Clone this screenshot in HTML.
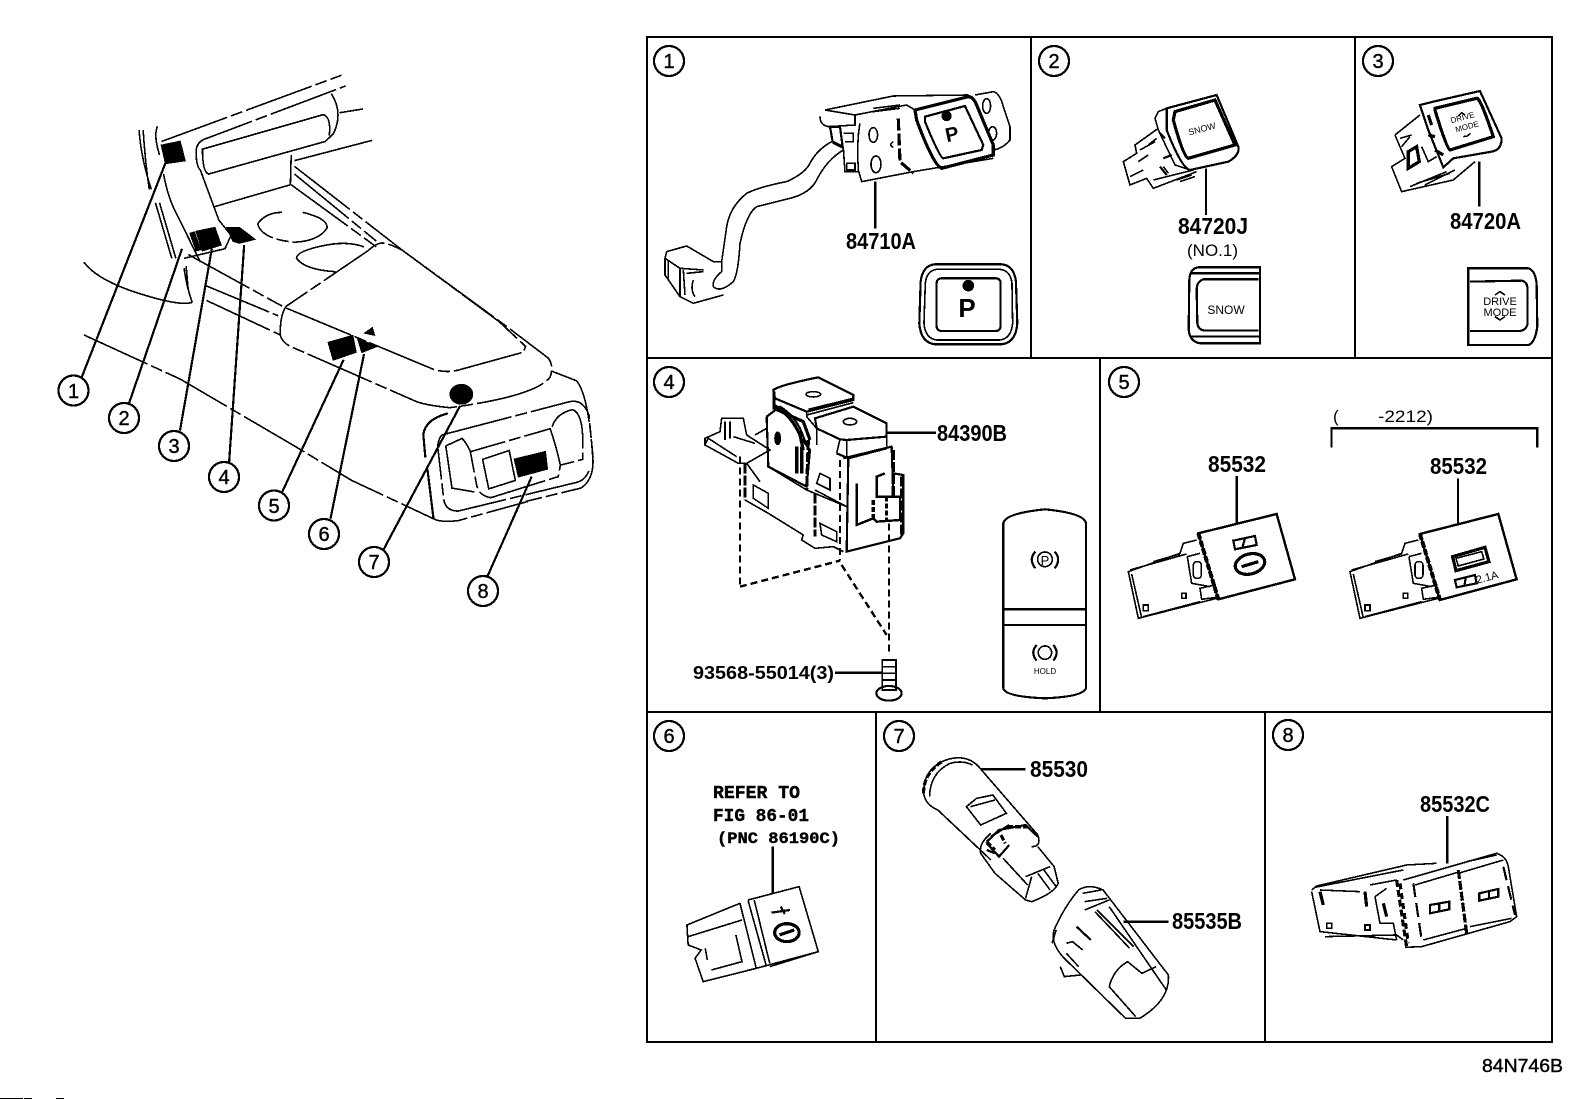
<!DOCTYPE html>
<html><head><meta charset="utf-8"><style>
html,body{margin:0;padding:0;background:#fff}
svg{display:block}
path,line,ellipse,circle,rect,polygon{fill:none;stroke:#000;stroke-width:1.6;vector-effect:non-scaling-stroke;shape-rendering:crispEdges}
.t{stroke-width:3.2}.m{stroke-width:2.2}.f{stroke-width:1.2}
.b{fill:#000}.w{fill:#fff}
.d{stroke-dasharray:70 4 12 4}.ds{stroke-dasharray:7 4;stroke-width:2.4}
.g{stroke-width:2.4}
text{font-family:"Liberation Sans",sans-serif;fill:#000;stroke:none}
.n{font-weight:bold;font-size:23px}
.c{font-size:20px;text-anchor:middle;stroke:#000;stroke-width:.4}
.r{font-family:"Liberation Mono",monospace;font-weight:bold;font-size:18px;stroke:#000;stroke-width:.4}
</style></head><body>
<svg width="1592" height="1099" viewBox="0 0 1592 1099" xmlns="http://www.w3.org/2000/svg">
<rect x="0" y="0" width="1592" height="1099" style="fill:#fff;stroke:none"/>

<!-- overview -->
<g transform="translate(0,40) scale(.409,.383)">
<path class="d" d="M395,265L835,92"/>
<path class="d" d="M480,300Q475,265 510,255L845,120"/>
<path d="M810,140Q840,190 815,245L795,265L510,350Q495,345 495,285L790,195Q810,200 805,250"/>
<path d="M830,190L888,180M720,315L910,262M712,300L710,378M525,435L710,378"/>
<path d="M480,300Q480,330 490,340L535,470L565,510L550,545L450,570"/>
<path class="d" d="M720,330L985,550L1235,745L1340,830"/>
<path class="d" d="M712,378L920,540M720,350L920,525"/>
<path class="d" d="M630,480Q650,450 690,450M740,450Q800,465 800,490Q780,525 720,528Q640,520 630,480"/>
<path d="M890,540Q850,525 800,535Q725,550 725,570Q745,600 820,605"/>
<path class="d" d="M935,530Q920,530 900,550L700,695Q685,715 685,770Q690,790 710,800L1020,945Q1050,955 1100,960Q1310,930 1345,880Q1355,850 1340,830"/>
<path class="d" d="M700,700L1060,860Q1090,870 1120,862L1280,815L1285,800L1220,735L985,550Q950,530 935,530"/>
<path d="M205,580Q240,630 350,665Q440,695 470,685"/>
<path class="d" d="M205,770L440,885L720,1060L860,1150L1060,1250Q1075,1260 1120,1255L1290,1205"/>
<path class="d" d="M460,560L690,695M500,640L680,720M505,680L685,770"/>
<path d="M340,235Q345,310 370,390M350,235Q355,320 365,390M385,225Q375,250 390,300M380,425L420,570M390,425L430,570M400,350Q410,410 430,450L490,580"/>
<path d="M450,595Q455,640 470,685M455,590L460,650"/>
<path class="d m" d="M1040,1090L1035,1030Q1040,990 1095,975"/>
<path class="m" d="M1045,1120L1060,1250"/>
<path class="d" d="M1350,865L1410,890Q1440,930 1450,1100Q1450,1150 1420,1170L1285,1205"/>
<path class="d" d="M1085,1030L1390,945Q1425,935 1440,980L1450,1090"/>
<path class="d" d="M1440,1125Q1430,1150 1410,1155L1120,1230Q1090,1230 1085,1200L1070,1060Q1075,1030 1085,1030"/>
<path class="d" d="M1090,1060L1130,1040Q1145,1060 1150,1075L1345,1015Q1360,1060 1370,1110L1365,1140L1200,1195Q1170,1190 1165,1160L1150,1075"/>
<path class="d" d="M1090,1060L1105,1170L1160,1180M1350,1010Q1360,975 1400,965Q1425,975 1425,1050L1425,1095L1370,1110"/>
<polygon points="1180,1095 1245,1072 1260,1150 1195,1172"/>
<polygon class="b" points="395,275 440,265 452,315 405,322"/>
<polygon class="b" points="480,500 525,490 540,535 495,550"/>
<polygon class="b" points="465,505 475,502 490,547 480,550"/>
<polygon class="b" points="555,490 585,490 622,520 585,530 570,525"/>
<polygon class="b" points="803,790 862,772 870,815 815,835"/>
<polygon class="b" points="875,780 920,800 885,815"/>
<polygon class="b" points="893,765 910,752 915,770"/>
<ellipse class="b" cx="1128" cy="925" rx="27" ry="25"/>
<polygon class="b" points="1258,1095 1333,1075 1338,1120 1268,1140"/>
<path class="m" d="M405,320L200,880M445,545L315,950M518,545L440,1020M597,535L560,1105M840,835L690,1180M890,820L808,1250M1125,955L938,1330M1300,1140L1192,1400"/>
</g>

<!-- grid -->
<path class="g" d="M647,37H1552V1042H647ZM647,358H1552M647,712H1552"/>
<path class="g" d="M1031,37V358M1355,37V358M1100,358V712M876,712V1042M1265,712V1042"/>

<!-- panel 1 -->
<g transform="translate(640,30) scale(.3333)">
<path d="M575,335Q530,360 510,400Q495,430 440,455Q360,470 320,490Q270,530 260,590L245,695L245,725Q215,750 220,770Q240,790 280,755Q295,730 300,640Q320,550 350,530L450,505Q510,490 530,450Q560,390 610,360"/>
<path d="M80,665L140,648L220,695L245,695M80,665L75,685L75,735L120,800L160,820L250,795M75,685L120,715L120,800M120,715L190,720M160,750Q150,780 165,800M85,690L85,745M130,720L135,795M140,730L190,725"/>
<path d="M660,280Q650,330 655,420L665,455L820,425L1060,385M540,260Q540,285 565,290L645,285L645,255L555,240L760,198L985,195M645,255L800,225L825,240M570,290L580,340L610,355L615,425L655,425M610,310H640V335H615M700,235L780,225M700,245L780,235M620,400H645V420H620Z"/>
<path class="m" d="M570,290L578,335L608,350L600,290Z"/>
<path class="t" d="M825,240L985,200Q1000,200 1010,225L1060,345L1060,375L905,415Q880,405 830,270Z"/>
<path class="m" d="M855,260L975,228L1030,345L1025,360L910,385Q900,385 855,275Z"/>
<circle class="b" cx="920" cy="258" r="13"/>
<path d="M1005,195L1060,185Q1080,190 1090,230L1110,290L1110,330Q1090,355 1060,360"/>
<ellipse cx="1040" cy="228" rx="12" ry="22"/><ellipse cx="1058" cy="310" rx="12" ry="20"/><ellipse cx="700" cy="315" rx="13" ry="22"/><ellipse cx="708" cy="403" rx="15" ry="25"/>
<path d="M760,335Q745,345 760,352"/>
<path class="t" d="M775,265L780,395L820,430" style="stroke-dasharray:12 3"/>
<path class="g" d="M706,455V595"/>
<path class="m" d="M885,703H1085Q1122,706 1128,755L1132,880Q1128,938 1085,943H885Q842,938 838,880L842,755Q848,706 885,703Z"/>
<path d="M890,718H1080Q1112,722 1116,760L1118,880Q1114,926 1080,930H890Q856,926 852,880L856,760Q860,722 890,718Z"/>
<rect class="m" x="890" y="745" width="192" height="158" rx="14"/>
<circle class="b" cx="985" cy="767" r="15"/>
</g>

<!-- panel 2, 3 -->
<g transform="translate(1100,30) scale(.3333)">
<path class="m" d="M200,235L350,195L415,350Q420,375 385,395L270,420Q245,415 200,300Z"/>
<path class="t" d="M225,245L345,210L405,345L265,385Q250,380 220,270Z"/>
<path d="M200,235L175,245L165,265L175,300L225,405L270,420M175,295L105,345L110,370L70,395L90,465L140,445L160,475L290,425M115,395L145,375M190,410L205,430M145,345L170,325M160,450L280,420M120,360L165,335M230,450L275,435M240,455L285,440M90,440L130,420"/>
<path class="m" d="M180,310L195,325M190,385L215,375M180,410L200,435"/>
<path class="g" d="M318,415V555"/>
<path class="m" d="M480,712L295,712Q270,715 268,750L266,900Q270,935 300,940L480,940ZM272,730H480M272,920H480"/>
<path class="m" d="M475,748L310,748Q290,755 290,780L292,880Q295,900 315,902L475,902"/>

<path class="m" d="M1000,215L1140,183L1205,325Q1205,360 1175,365L1060,385L1030,412L985,300L960,225Z"/>
<path class="t" d="M1005,235L1130,205Q1140,200 1180,320L1050,360Q1040,355 1005,240Z"/>
<path d="M885,315L960,255M885,315L915,385L875,410L905,485L1060,450L1125,395M930,470L1040,425M905,350L930,320M950,460L1050,430M975,465L1065,420M900,325L935,315M965,350L985,395L1010,380"/>
<path class="t" d="M925,365L950,350L958,395L925,415ZM985,255L995,285M1005,360L1030,375M985,315L1005,320"/>
<path class="g" d="M1138,395V530"/>
<path class="m" d="M1105,715L1285,715Q1305,720 1310,760L1312,890Q1305,940 1285,945L1105,945Z"/>
<path class="m" d="M1110,755L1265,752Q1283,755 1283,780L1283,880Q1280,900 1260,903L1110,903"/>
<path d="M1185,795L1200,785L1215,795M1185,860L1200,870L1215,860M1075,258L1085,248L1095,255M1090,320L1102,318L1112,310"/>
</g>

<!-- panel 4 -->
<g transform="translate(640,350) scale(.3333)">
<path class="m" d="M400,120Q420,105 535,82L640,135L640,150L500,185L405,145Z"/>
<path class="t" d="M402,125V175L490,215L510,270"/>
<path class="m" d="M525,205L640,170L740,220L740,260Q680,265 620,270L600,268L530,235Z"/>
<path d="M500,185L500,200L530,235M500,195L640,158M505,178L640,145M600,268L590,310M620,270V325M530,235V285M740,220V290"/>
<path class="m" d="M610,325L755,290L760,440M590,310L625,325L620,605L780,565L790,550L790,375L760,370M625,325L740,295"/>
<path d="M385,350L500,420L620,470M315,450L385,490L490,555L485,570L525,595L580,590L610,605M525,420L620,470"/>
<path d="M195,265L240,245L245,205L310,205L320,255L390,300L320,340L295,340L195,285ZM195,285L205,265L290,320M320,340L360,395M345,255L380,235M255,215V270M270,215V265M280,260L345,280"/>
<path class="m" d="M380,200L420,170Q470,200 490,260L510,310M380,200L385,350L500,410L510,300L480,260"/>
<path class="t" d="M505,270L500,420M525,430V560M315,340V450M760,300V440M785,380V555" style="stroke-dasharray:10 2"/>
<path class="t" d="M400,165Q450,190 480,255L490,300M470,290V370M485,290V370"/>
<path d="M340,405L385,430V475L340,445ZM540,520L590,545V575L545,555ZM540,370L570,385V420L530,400Z"/>
<path class="g" d="M650,400L650,525L700,505L710,515L780,510L780,440L710,440L710,380L735,370"/>
<path class="t" d="M700,450V510M740,440V510" style="stroke-dasharray:5 2"/>
<ellipse class="b" cx="413" cy="265" rx="8" ry="18"/>
<ellipse cx="520" cy="133" rx="22" ry="8"/><ellipse cx="630" cy="215" rx="20" ry="10"/>
<path class="ds" d="M300,320V710M600,330V632M747,520V905"/>
<path class="ds" d="M300,710L600,632M605,645L740,855"/>
<path d="M727,930H768V1020H727ZM727,950H768M727,970H768M727,990H768"/>
<ellipse class="m" cx="747" cy="1030" rx="38" ry="22"/>
<path class="g" d="M740,248H888M585,968H725"/>
<path class="m" d="M1090,520Q1095,490 1215,478Q1335,490 1338,520L1338,1015Q1330,1040 1215,1045Q1095,1040 1090,1015Z"/>
<path class="m" d="M1092,778H1338M1092,825H1338"/>
<circle cx="1215" cy="628" r="22"/>
<path class="m" d="M1186,605Q1165,628 1186,655M1244,605Q1265,628 1244,655"/>
<circle cx="1215" cy="908" r="20"/>
<path class="m" d="M1190,885Q1170,908 1190,932M1240,885Q1260,908 1240,932"/>
</g>

<!-- panel 5 -->
<g transform="translate(1100,350) scale(.3333)">
<path class="g" d="M295,550L530,492L585,688L355,748Z"/>
<path style="stroke-width:4;stroke-dasharray:6 2" d="M295,550L355,748"/>
<path d="M290,570L250,580L240,610L85,665L115,805L350,745M95,672L125,803M90,660L260,612M262,620L300,610M262,620L275,700L330,710M300,715L345,705L350,742L305,748ZM160,635L240,612M130,800L300,755"/>
<rect x="280" y="635" width="24" height="50" rx="10"/>
<ellipse class="t" cx="450" cy="642" rx="45" ry="30" transform="rotate(-15 450 642)"/>
<path class="t" d="M425,650L475,635"/>
<path class="m" d="M400,572L465,558L470,585L405,598ZM435,565L428,590"/>
<path d="M245,730H258V745H245ZM130,765H145V782H130Z"/>
<path class="g" d="M410,378V520"/>
<path class="g" d="M960,552L1195,492L1250,688L1020,750Z"/>
<path style="stroke-width:4;stroke-dasharray:6 2" d="M960,552L1020,750"/>
<path d="M955,570L915,580L905,610L750,665L780,805L1015,745M760,672L790,803M755,660L925,612M927,620L965,610M927,620L940,700L995,710M965,715L1010,705L1015,742L970,748ZM825,635L905,612M795,800L965,755"/>
<rect x="945" y="635" width="24" height="50" rx="10"/>
<path class="t" d="M1058,620L1155,592L1167,635L1068,662Z"/>
<path d="M1068,625L1145,605L1152,627L1075,648Z"/>
<path class="m" d="M1065,690L1125,675L1130,700L1070,712ZM1098,680L1093,708"/>
<path d="M910,730H923V745H910ZM795,765H810V782H795Z"/>
<path class="g" d="M1074,385V520"/>
<path class="m" d="M695,292V235H1312V292"/>
</g>

<!-- panel 6,7 -->
<g transform="translate(640,710) scale(.408,.3333)">
<path d="M265,570L390,530L437,725L285,775M245,580L115,645L118,705L150,720L135,745L155,815L285,775M245,580L285,775M265,572L310,770M280,570L318,760M118,680L250,630M160,715L165,750M175,780L250,755L235,675M318,770L437,725"/>
<ellipse class="t" cx="360" cy="668" rx="30" ry="27"/>
<path class="t" d="M342,675L378,660"/>
<path class="m" d="M322,608L368,600M345,590L355,612"/>
<path class="g" d="M325,410V550"/>
<path d="M695,250Q695,175 750,150Q800,130 830,170L975,375Q985,410 960,410M695,250Q700,285 730,300L860,450M710,260Q710,190 760,160Q790,150 815,165"/>
<path class="t" d="M695,250Q695,190 740,155" style="stroke-dasharray:6 2"/>
<path d="M860,370Q830,400 835,430L870,490L945,570L960,575Q1015,550 1025,520L1015,470L975,410M800,290L825,265L865,255L898,310L835,345ZM890,445L950,525M945,500L1005,470M960,500L945,565M975,490L1005,540M990,480L1020,530M810,290L870,270"/>
<path class="m" d="M850,395L880,360L945,345L975,380M850,400L880,440L905,405M860,380L905,345M850,420L870,430"/>
<path class="t" d="M850,395L870,420M885,375L895,400M900,350L950,350" style="stroke-dasharray:6 2"/>
<path d="M1075,540Q1100,520 1135,540L1295,795Q1300,870 1225,925L1190,925L1040,745Q1005,700 1015,660Q1040,590 1075,540ZM1115,605L1200,715M1150,590L1290,840M1090,600L1150,570M1150,830Q1160,780 1195,755L1230,790L1265,770M1150,830L1215,920M1030,770L1040,800L1080,795M1045,700L1060,695L1085,720M1045,730L1075,770M1085,550L1130,540M1090,575L1145,565M1120,600L1210,710M1020,660L1010,700"/>
<path class="m" d="M1070,650L1105,690"/>
<path class="g" d="M835,178H945M1185,635H1295"/>
</g>

<!-- panel 8 -->
<g transform="translate(1240,710) scale(.3333)">
<path d="M490,510L770,430Q800,440 805,470L830,620L810,635L545,710L495,712M215,540L230,528L500,465L590,460M225,532L490,480M215,545L240,665L470,690M255,680L470,675L490,690M390,525L470,510M405,560L440,535M405,560L420,640L460,640L470,690M525,525L660,485M655,490L790,450M680,455L770,435M550,690L680,655M690,650L815,625M240,540L360,545"/>
<path class="t" d="M470,510L500,712" style="stroke-dasharray:7 3"/>
<path class="t" d="M480,520L505,700" style="stroke-dasharray:6 4"/>
<path class="t" d="M655,480L680,670" style="stroke-dasharray:9 2"/>
<path class="m" d="M520,520L545,690" style="stroke-dasharray:14 6"/>
<path class="m" d="M790,470L825,615" style="stroke-dasharray:14 6"/>
<path class="t" d="M240,545L250,585M375,545L380,590M430,580L440,620"/>
<path d="M260,640H275V655H260ZM375,645H390V660H375Z"/>
<path class="m" d="M570,585L628,575L628,598L570,610ZM598,578V605M718,550L775,537L775,560L718,572ZM747,545V565"/>
<path class="g" d="M622,318V460"/>
</g>

<!-- number circles -->
<g>
<circle cx="669" cy="61" r="15" class="m"/><circle cx="1054" cy="61" r="15" class="m"/><circle cx="1378" cy="61" r="15" class="m"/><circle cx="669" cy="382" r="15" class="m"/><circle cx="1124" cy="382" r="15" class="m"/><circle cx="669" cy="736" r="15" class="m"/><circle cx="899" cy="736" r="15" class="m"/><circle cx="1288" cy="735" r="15" class="m"/>
<circle cx="73.5" cy="390.5" r="15" class="m"/><circle cx="124" cy="418" r="15" class="m"/><circle cx="174" cy="446" r="15" class="m"/><circle cx="224" cy="477" r="15" class="m"/><circle cx="274" cy="505.5" r="15" class="m"/><circle cx="324" cy="534" r="15" class="m"/><circle cx="374" cy="562" r="15" class="m"/><circle cx="483" cy="591" r="15" class="m"/>
</g>
<text class="c" x="669" y="68">1</text><text class="c" x="1054" y="68">2</text><text class="c" x="1378" y="68">3</text><text class="c" x="669" y="389">4</text><text class="c" x="1124" y="389">5</text><text class="c" x="669" y="743">6</text><text class="c" x="899" y="743">7</text><text class="c" x="1288" y="742">8</text>
<text class="c" x="73.5" y="398">1</text><text class="c" x="124" y="425">2</text><text class="c" x="174" y="453">3</text><text class="c" x="224" y="484">4</text><text class="c" x="274" y="513">5</text><text class="c" x="324" y="541">6</text><text class="c" x="374" y="569">7</text><text class="c" x="483" y="598">8</text>

<!-- labels -->
<text class="n" x="846" y="249" textLength="70" lengthAdjust="spacingAndGlyphs">84710A</text>
<text class="n" x="1178" y="234" textLength="70" lengthAdjust="spacingAndGlyphs">84720J</text>
<text x="1187" y="256" font-size="17" textLength="51" lengthAdjust="spacingAndGlyphs">(NO.1)</text>
<text class="n" x="1450" y="229" textLength="71" lengthAdjust="spacingAndGlyphs">84720A</text>
<text class="n" x="937" y="441" textLength="70" lengthAdjust="spacingAndGlyphs">84390B</text>
<text class="n" x="693" y="679" style="font-size:18px" textLength="141" lengthAdjust="spacingAndGlyphs">93568-55014(3)</text>
<text x="1333" y="422" font-size="17">(</text>
<text x="1378" y="422" font-size="17" textLength="55" lengthAdjust="spacingAndGlyphs">-2212)</text>
<text class="n" x="1208" y="472" textLength="58" lengthAdjust="spacingAndGlyphs">85532</text>
<text class="n" x="1430" y="474" textLength="57" lengthAdjust="spacingAndGlyphs">85532</text>
<text class="r" x="713" y="798" textLength="87" lengthAdjust="spacingAndGlyphs">REFER TO</text>
<text class="r" x="713" y="821" textLength="96" lengthAdjust="spacingAndGlyphs">FIG 86-01</text>
<text class="r" x="717" y="843" style="font-size:16px" textLength="123" lengthAdjust="spacingAndGlyphs">(PNC 86190C)</text>
<text class="n" x="1030" y="777" textLength="58" lengthAdjust="spacingAndGlyphs">85530</text>
<text class="n" x="1172" y="929" textLength="70" lengthAdjust="spacingAndGlyphs">85535B</text>
<text class="n" x="1420" y="812" textLength="70" lengthAdjust="spacingAndGlyphs">85532C</text>
<text x="1482" y="1072" font-size="18" stroke="#000" style="stroke:#000;stroke-width:.4" textLength="81" lengthAdjust="spacingAndGlyphs">84N746B</text>
<text x="952" y="141" font-size="20" font-weight="bold" text-anchor="middle" transform="rotate(-12 952 134)">P</text>
<text x="967" y="317" font-size="26" font-weight="bold" text-anchor="middle">P</text>
<text x="1202" y="132" font-size="9" text-anchor="middle" transform="rotate(-15 1202 129)">SNOW</text>
<text x="1226" y="314" font-size="12" text-anchor="middle">SNOW</text>
<text x="1464" y="120" font-size="8" text-anchor="middle" transform="rotate(-15 1464 123)">DRIVE</text>
<text x="1466" y="130" font-size="8" text-anchor="middle" transform="rotate(-15 1464 123)">MODE</text>
<text x="1500" y="305" font-size="11" text-anchor="middle">DRIVE</text>
<text x="1500" y="316" font-size="11" text-anchor="middle">MODE</text>
<text x="1045" y="565" font-size="13" text-anchor="middle">P</text>
<text x="1045" y="674" font-size="8" text-anchor="middle">HOLD</text>
<text x="1487" y="581" font-size="11" text-anchor="middle" transform="rotate(-15 1487 577)">2.1A</text>

<rect x="0" y="1098" width="23" height="1" class="b" style="stroke:none"/><rect x="24" y="1098" width="8" height="1" class="b" style="stroke:none"/><rect x="56" y="1098" width="8" height="1" class="b" style="stroke:none"/>
</svg>
</body></html>
